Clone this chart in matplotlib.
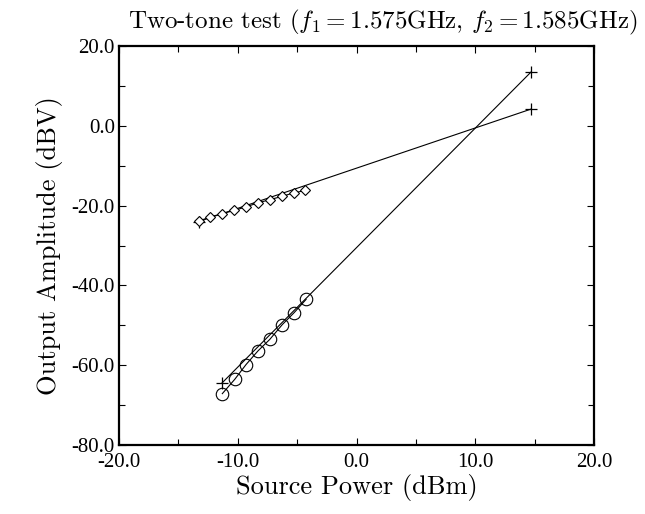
import matplotlib
matplotlib.use("Agg")
import matplotlib.pyplot as plt
from matplotlib.ticker import MultipleLocator

plt.rcParams['mathtext.fontset'] = 'cm'
plt.rcParams['axes.unicode_minus'] = False

# Data (source power in dBm, output amplitude in dBV)
fund_x = [-13.3, -12.3, -11.3, -10.3, -9.3, -8.3, -7.3, -6.3, -5.3, -4.3]
fund_y = [-23.9, -22.8, -22.0, -21.2, -20.3, -19.3, -18.5, -17.7, -16.8, -16.2]
im3_x = [-11.3, -10.25, -9.3, -8.3, -7.3, -6.25, -5.25, -4.25]
im3_y = [-67.1, -63.5, -59.8, -56.4, -53.5, -49.8, -46.8, -43.5]
fund_fit_x = [-13.3, 14.7]
fund_fit_y = [-24.0, 4.2]
im3_fit_x = [-11.35, 14.7]
im3_fit_y = [-64.5, 13.5]

xticks = [-20, -10, 0, 10, 20]
xticklabels = ["-20.0", "-10.0", "0.0", "10.0", "20.0"]
yticks = [-80, -60, -40, -20, 0, 20]
yticklabels = ["-80.0", "-60.0", "-40.0", "-20.0", "0.0", "20.0"]

fig = plt.figure(figsize=(6.45, 5.14), dpi=100)
ax = fig.add_axes([0.1845, 0.134, 0.7365, 0.7765])

lw = 0.8
ax.plot(fund_fit_x, fund_fit_y, '-', color='black', lw=lw, marker='+', ms=9, mew=0.9)
ax.plot(im3_fit_x, im3_fit_y, '-', color='black', lw=lw, marker='+', ms=9, mew=0.9)
ax.plot(fund_x, fund_y, '-', color='black', lw=lw, marker='D', ms=5.5,
        mfc='white', mec='black', mew=0.8)
ax.plot(im3_x, im3_y, '-', color='black', lw=lw, marker='o', ms=9,
        mfc='none', mec='black', mew=0.8)

ax.set_xlim(-20, 20)
ax.set_ylim(-80, 20)
ax.set_xticks(xticks)
ax.set_xticklabels(xticklabels)
ax.set_yticks(yticks)
ax.set_yticklabels(yticklabels)
ax.xaxis.set_minor_locator(MultipleLocator(5))
ax.yaxis.set_minor_locator(MultipleLocator(10))
ax.tick_params(which='both', direction='in', top=True, right=True)
ax.tick_params(axis='x', which='major', length=5, width=0.8, pad=6)
ax.tick_params(axis='y', which='major', length=5, width=0.8, pad=3)
ax.tick_params(which='minor', length=4, width=0.8)
for lab in ax.get_xticklabels() + ax.get_yticklabels():
    lab.set_fontfamily('Liberation Serif')
    lab.set_fontsize(15)
for s in ax.spines.values():
    s.set_linewidth(1.6)

ax.set_xlabel('Source Power (dBm)', fontfamily='cmr10', fontsize=19, labelpad=1)
ax.set_ylabel('Output Amplitude (dBV)', fontfamily='cmr10', fontsize=19, labelpad=6)
fig.text(0.988, 0.985, r'Two-tone test ($f_1 = 1.575$GHz, $f_2 = 1.585$GHz)',
         fontfamily='cmr10', fontsize=18, ha='right', va='top')

fig.savefig('out.png', dpi=100)
